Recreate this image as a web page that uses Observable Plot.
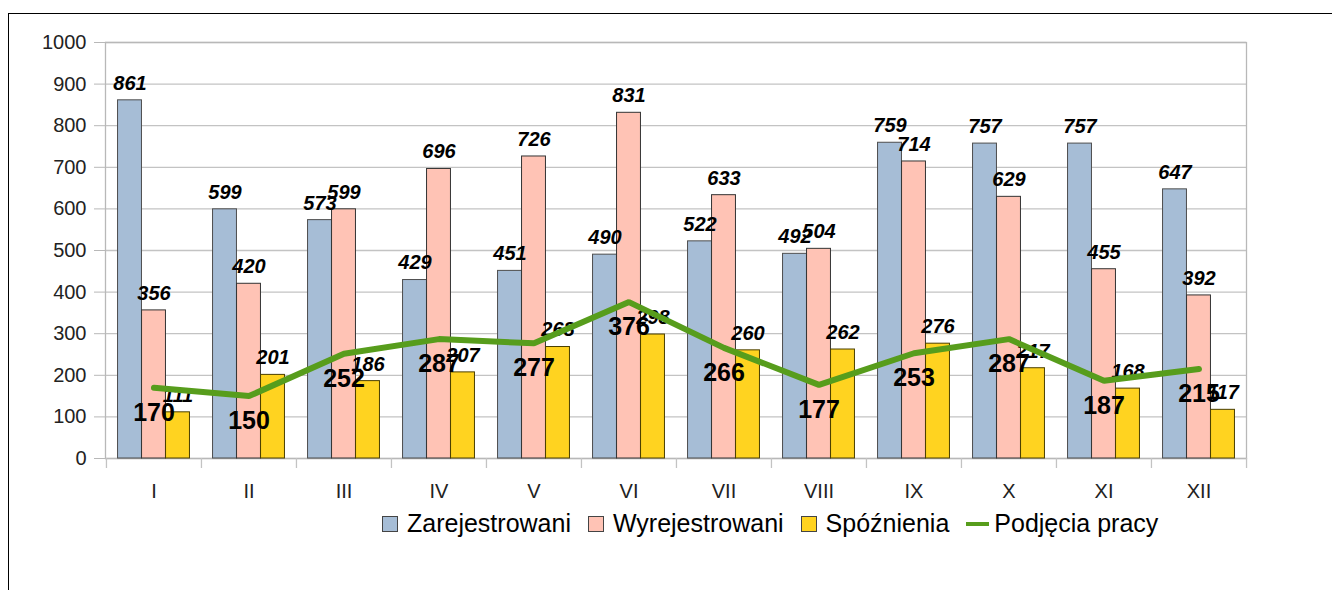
<!DOCTYPE html>
<html><head><meta charset="utf-8">
<script src="https://cdn.jsdelivr.net/npm/d3@7"></script>
<script src="https://cdn.jsdelivr.net/npm/@observablehq/plot@0.6"></script>
<style>
body{margin:0;background:#fff;font-family:"Liberation Sans",Arial,sans-serif;}
#wrap{position:relative;width:1332px;height:590px;overflow:hidden;}
#frame{position:absolute;left:8px;top:13px;width:1400px;height:700px;border-left:1px solid #000;border-top:1px solid #000;}
#chart{position:absolute;left:0;top:0;}
#legend{position:absolute;left:382px;top:509px;display:flex;align-items:center;font-size:25px;color:#000;white-space:nowrap;}
.it{display:flex;align-items:center;margin-right:17px;}
.sw{width:14px;height:14px;border:1px solid #444;margin-right:9px;}
.ln{width:23px;height:4px;margin-right:5px;}
</style>
</head><body>
<div id="wrap"><div id="frame"></div><div id="chart"></div><div id="legend"></div></div>
<script>
const months = ["I","II","III","IV","V","VI","VII","VIII","IX","X","XI","XII"];
const zarejestrowani = [861,599,573,429,451,490,522,492,759,757,757,647];
const wyrejestrowani = [356,420,599,696,726,831,633,504,714,629,455,392];
const spoznienia = [111,201,186,207,268,298,260,262,276,217,168,117];
const podjecia = [170,150,252,287,277,376,266,177,253,287,187,215];
const seriesNames = ["Zarejestrowani","Wyrejestrowani","Spóźnienia","Podjęcia pracy"];
const colors = ["#a6bdd6","#ffc3b5","#ffd320","#579d1c"];
const yTicks = [0,100,200,300,400,500,600,700,800,900,1000];

const W = 1332, H = 500, mL = 105, mR = 86, mT = 42, mB = 42;
const bw = (W - mL - mR) / months.length;
const barW = 24, pad = (bw - 3 * barW) / 2;

const tbl = (vals) => months.map((m, i) => ({m, v: vals[i]}));
const barSeries = [zarejestrowani, wyrejestrowani, spoznienia];
const strokes = ["#4d4d4d","#333","#4a3f00"];

const marks = [
  Plot.ruleY(yTicks, {stroke: "#c3c3c3", strokeWidth: 1.3}),
  Plot.frame({stroke: "#b8b8b8", strokeWidth: 1.3}),
  Plot.ruleX(months, {x: d => d, dx: -bw / 2, y1: 0, y2: -24, stroke: "#c3c3c3", strokeWidth: 1.3}),
  Plot.ruleX(["XII"], {x: d => d, dx: bw / 2, y1: 0, y2: -24, stroke: "#c3c3c3", strokeWidth: 1.3})
];
barSeries.forEach((vals, s) => {
  marks.push(Plot.barY(tbl(vals), {
    x: "m", y: "v", fill: colors[s], stroke: strokes[s], strokeWidth: 1,
    insetLeft: pad + s * barW, insetRight: bw - pad - (s + 1) * barW
  }));
});
barSeries.forEach((vals, s) => {
  marks.push(Plot.text(tbl(vals), {
    x: "m", y: "v", text: d => String(d.v), dx: (s - 1) * barW, dy: -17,
    fontSize: 20, fontWeight: "bold", fontStyle: "italic", fill: "#000"
  }));
});
marks.push(Plot.line(tbl(podjecia), {x: "m", y: "v", stroke: colors[3], strokeWidth: 6, strokeLinejoin: "miter"}));
marks.push(Plot.text(tbl(podjecia), {
  x: "m", y: "v", text: d => String(d.v), dy: 25,
  fontSize: 25, fontWeight: "bold", fill: "#000"
}));

const chart = Plot.plot({
  width: W, height: H,
  marginLeft: mL, marginRight: mR, marginTop: mT, marginBottom: mB,
  style: {fontFamily: "'Liberation Sans', Arial, sans-serif", background: "transparent", overflow: "visible"},
  x: {type: "band", domain: months, padding: 0, tickSize: 0, tickPadding: 24, label: null, fontSize: 20},
  y: {domain: [0, 1000], ticks: yTicks, tickSize: 11, tickPadding: 8, label: null},
  marks: [
    ...marks,
    Plot.axisY({ticks: yTicks, tickFormat: d => String(d), tickSize: 11, tickPadding: 8, label: null, fontSize: 20, stroke: "#b8b8b8", fill: "#222"}),
    Plot.axisX({tickSize: 0, tickPadding: 25, label: null, fontSize: 20, fill: "#222"})
  ]
});
document.getElementById("chart").appendChild(chart);

const leg = document.getElementById("legend");
seriesNames.forEach((name, i) => {
  const it = document.createElement("div");
  it.className = "it";
  const sw = document.createElement("div");
  sw.className = i < 3 ? "sw" : "ln";
  sw.style.background = colors[i];
  it.appendChild(sw);
  const t = document.createElement("span");
  t.textContent = name;
  it.appendChild(t);
  leg.appendChild(it);
});
</script>
</body></html>
